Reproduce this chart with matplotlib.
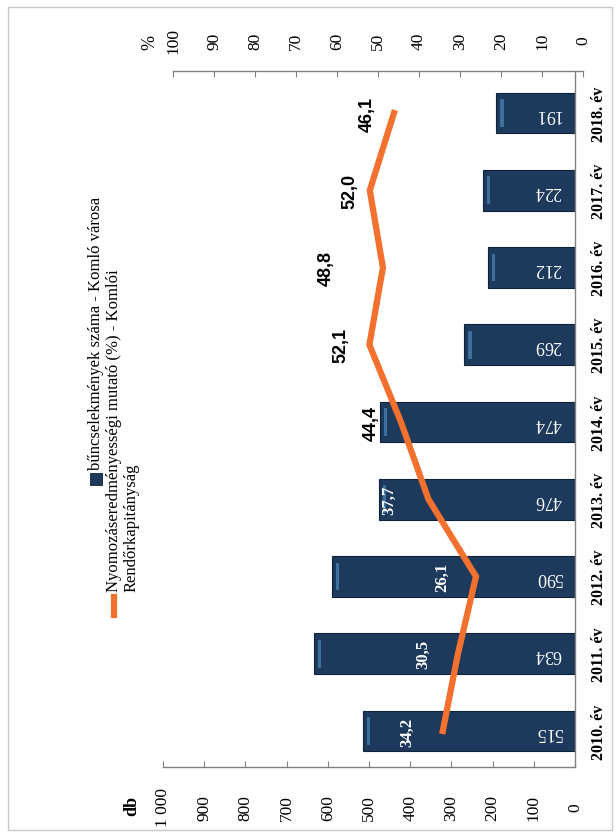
import matplotlib
matplotlib.use('Agg')
import matplotlib.pyplot as plt
from matplotlib.patches import Rectangle
from matplotlib.lines import Line2D

# ---- data ----
years = ['2010. év', '2011. év', '2012. év', '2013. év', '2014. év',
         '2015. év', '2016. év', '2017. év', '2018. év']
crimes = [515, 634, 590, 476, 474, 269, 212, 224, 191]
rate = [34.2, 30.5, 26.1, 37.7, 44.4, 52.1, 48.8, 52.0, 46.1]
rate_labels = ['34,2', '30,5', '26,1', '37,7', '44,4', '52,1', '48,8', '52,0', '46,1']
db_ticks = [0, 100, 200, 300, 400, 500, 600, 700, 800, 900, 1000]
db_ticklabels = ['0', '100', '200', '300', '400', '500', '600', '700', '800', '900', '1 000']
pct_ticks = [0, 10, 20, 30, 40, 50, 60, 70, 80, 90, 100]
pct_ticklabels = [str(v) for v in pct_ticks]
legend_bars = 'bűncselekmények száma - Komló városa'
legend_line1 = 'Nyomozáseredményességi mutató (%) - Komlói'
legend_line2 = 'Rendőrkapitányság'

# ---- style ----
SERIF = ['Liberation Serif', 'DejaVu Serif']
SANS = ['Liberation Sans', 'DejaVu Sans']
BAR = '#1d3a5c'
BAR_EDGE = '#0f2338'
HIGHLIGHT = '#4b86b8'
ORANGE = '#f3702e'
AXIS = '#808080'

W, H = 616, 837
fig = plt.figure(figsize=(W / 100, H / 100), dpi=100)
fig.patch.set_facecolor('white')


def box(x0, y0, x1, y1):
    return [x0 / W, 1 - y1 / H, (x1 - x0) / W, (y1 - y0) / H]


def pt(px):
    return px * 0.72


# scan frame
fig.add_artist(Rectangle((8 / W, 1 - 831 / H), 604 / W, 823 / H, transform=fig.transFigure,
                         fill=False, edgecolor='#c8c8c8', lw=1.0))

pos = list(range(len(years)))
YLIM = (-0.466, 8.544)

# ---- bar axes (db) ----
ax = fig.add_axes(box(163, 72, 575, 768))
ax.set_facecolor('none')
ax.barh(pos, crimes, height=0.53, color=BAR, edgecolor=BAR_EDGE, lw=0.8, zorder=2)
# light bevel near the bar ends
ax.barh(pos, [-8] * len(pos), left=[c - 10 for c in crimes], height=0.36,
        color=HIGHLIGHT, lw=0, alpha=0.7, zorder=3)
ax.set_xlim(1000, 0)
ax.set_ylim(*YLIM)
for s in ['top', 'left']:
    ax.spines[s].set_visible(False)
for s in ['bottom', 'right']:
    ax.spines[s].set_color(AXIS)
    ax.spines[s].set_linewidth(1.0)

ax.set_xticks(db_ticks)
ax.set_xticklabels(db_ticklabels, rotation=90, fontsize=12.5, family=SERIF)
for t in ax.get_xticklabels():
    t.set_va('center')
    t.set_ha('center')
ax.tick_params(axis='x', direction='in', length=4, color=AXIS, pad=pt(40))

ax.yaxis.tick_right()
ax.set_yticks(pos)
ax.set_yticklabels(years, rotation=90, fontsize=11.5, fontweight='bold', family=SERIF)
for t in ax.get_yticklabels():
    t.set_ha('center')
    t.set_va('center')
ax.tick_params(axis='y', length=0, pad=pt(24))

for i, c in enumerate(crimes):
    ax.annotate(str(c), xy=(0, i), xytext=(-pt(27), 0), textcoords='offset points',
                rotation=180, color='white', fontsize=13, family=SERIF,
                ha='center', va='center', zorder=5)

# ---- percentage axes ----
ax2 = fig.add_axes(box(173, 72, 583, 768))
ax2.set_facecolor('none')
ax2.set_xlim(100, 0)
ax2.set_ylim(*YLIM)
for s in ['bottom', 'left', 'right']:
    ax2.spines[s].set_visible(False)
ax2.spines['top'].set_color(AXIS)
ax2.spines['top'].set_linewidth(1.0)
ax2.xaxis.tick_top()
ax2.set_xticks(pct_ticks)
ax2.set_xticklabels(pct_ticklabels, rotation=90, fontsize=12.5, family=SERIF)
for t in ax2.get_xticklabels():
    t.set_va('center')
    t.set_ha('center')
ax2.tick_params(axis='x', direction='in', length=4, color=AXIS, pad=pt(31))
ax2.set_yticks([])

ax2.plot(rate, pos, color=ORANGE, lw=4.5, solid_joinstyle='miter', zorder=4)

offsets = [-36, -35, -34, -39, -30, -28, -57, -20, -27]
for i, (r, lab, off) in enumerate(zip(rate, rate_labels, offsets)):
    inside = i < 4
    ax2.annotate(lab, xy=(r, i), xytext=(pt(off), 0), textcoords='offset points',
                 rotation=90, ha='center', va='center', fontweight='bold',
                 color='white' if inside else 'black',
                 fontsize=12 if inside else 13,
                 family=SERIF if inside else SANS, zorder=6)

# axis unit labels
fig.text(150 / W, 1 - 42 / H, '%', rotation=90, ha='center', va='center',
         fontsize=13, family=SERIF)
fig.text(132 / W, 1 - 806 / H, 'db', rotation=90, ha='center', va='center',
         fontsize=13, fontweight='bold', family=SERIF)

# ---- legend (rotated) ----
fig.add_artist(Rectangle((90 / W, 1 - 486 / H), 12 / W, 12 / H, transform=fig.transFigure,
                         facecolor=BAR, edgecolor=BAR_EDGE, lw=0.6))
fig.text(96 / W, 1 - 470 / H, legend_bars, rotation=90, rotation_mode='anchor',
         ha='left', va='center', fontsize=12, family=SERIF)
fig.add_artist(Line2D([114 / W, 114 / W], [1 - 616 / H, 1 - 598 / H],
                      transform=fig.transFigure, color=ORANGE, lw=4.5))
fig.text(114 / W, 1 - 592 / H, legend_line1, rotation=90, rotation_mode='anchor',
         ha='left', va='center', fontsize=12, family=SERIF)
fig.text(132 / W, 1 - 592 / H, legend_line2, rotation=90, rotation_mode='anchor',
         ha='left', va='center', fontsize=12, family=SERIF)

fig.savefig('out.png', dpi=100, facecolor='white')
